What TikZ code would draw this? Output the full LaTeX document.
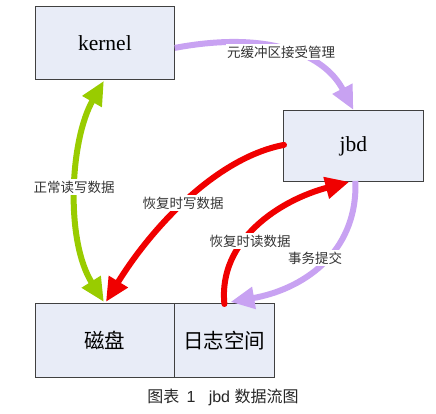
\documentclass[tikz,border=0pt]{standalone}
\usepackage{fontspec}
\setmainfont{Liberation Serif}
\newfontfamily\cjk{Noto Sans CJK SC}
\newfontfamily\capfont{Liberation Sans}
\usetikzlibrary{arrows.meta,calc}
\definecolor{boxfill}{HTML}{E8ECF7}
\definecolor{boxline}{HTML}{404040}
\definecolor{lilac}{HTML}{C8A2F2}
\definecolor{lgreen}{HTML}{99CC00}
\definecolor{rred}{HTML}{F00000}
\tikzset{
  box/.style={draw=boxline, line width=0.8pt, fill=boxfill, inner sep=0pt, anchor=north west},
  tip/.tip={Triangle[length=24pt,width=21pt]},
  flow/.style={line width=6pt, -tip},
  lbl/.style={fill=white, inner sep=1.5pt, font=\cjk\fontsize{13.5}{15}\selectfont, text=black!80},
}
\begin{document}
\begin{tikzpicture}[x=1pt,y=-1pt]
\useasboundingbox (0,0) rectangle (436,414);
\node[box, minimum width=139pt, minimum height=73pt, font=\fontsize{21.5}{24}\selectfont] (kernel) at (35,6) {kernel};
\node[box, minimum width=140pt, minimum height=71pt, font=\fontsize{21.5}{24}\selectfont] (jbd) at (283,110) {jbd};
\node[box, minimum width=139pt, minimum height=74pt, font=\cjk\fontsize{20.5}{23}\selectfont] (disk) at (35,303) {磁盘};
\node[box, minimum width=100pt, minimum height=74pt, font=\cjk\fontsize{20.5}{23}\selectfont] (log) at (174,303) {日志空间};
\node[font=\capfont\fontsize{16}{18}\selectfont, text=black!85] (cap) at (223,397) {\cjk 图表\ \ \capfont 1\ \ \ jbd \cjk 数据流图};

\coordinate (k1) at ($(kernel.east)+(0,5)$);
\coordinate (j1) at ($(jbd.north)+(0,0)$);
\coordinate (kb) at ($(kernel.south)+(-1,1)$);
\coordinate (dt) at ($(disk.north)+(-1,-1)$);
\coordinate (dt2) at ($(disk.north)+(1,-1)$);
\coordinate (jw) at ($(jbd.west)+(1,-1)$);
\coordinate (lt) at ($(log.north)+(0,1)$);
\coordinate (lt2) at ($(log.north)+(6,-1)$);
\coordinate (jb1) at ($(jbd.south)+(-4,0)$);
\coordinate (jb2) at ($(jbd.south)+(2,-1)$);

% purple kernel -> jbd
\draw[flow, lilac] (k1) .. controls (270,30) and (325,55) .. (j1);
\node[lbl] (l1) at (281,52) {元缓冲区接受管理};

% green double arrow
\draw[line width=6pt, lgreen, tip-tip] (kb) .. controls (70,140) and (65,240) .. (dt);
\node[lbl] (l2) at (74,187) {正常读写数据};

% red jbd -> disk
\draw[flow, rred, line cap=round] (jw) .. controls (215,158) and (150,230) .. (dt2);
\node[lbl] (l3) at (183,203) {恢复时写数据};

% purple jbd -> log
\draw[flow, lilac] (jb2) .. controls (358,255) and (300,290) .. (lt2);
\node[lbl] (l5) at (315,258) {事务提交};

% red log -> jbd
\draw[flow, rred, line cap=round] (lt) .. controls (218,240) and (280,200) .. (jb1);
\node[lbl] (l4) at (250,241) {恢复时读数据};
\end{tikzpicture}
\end{document}
